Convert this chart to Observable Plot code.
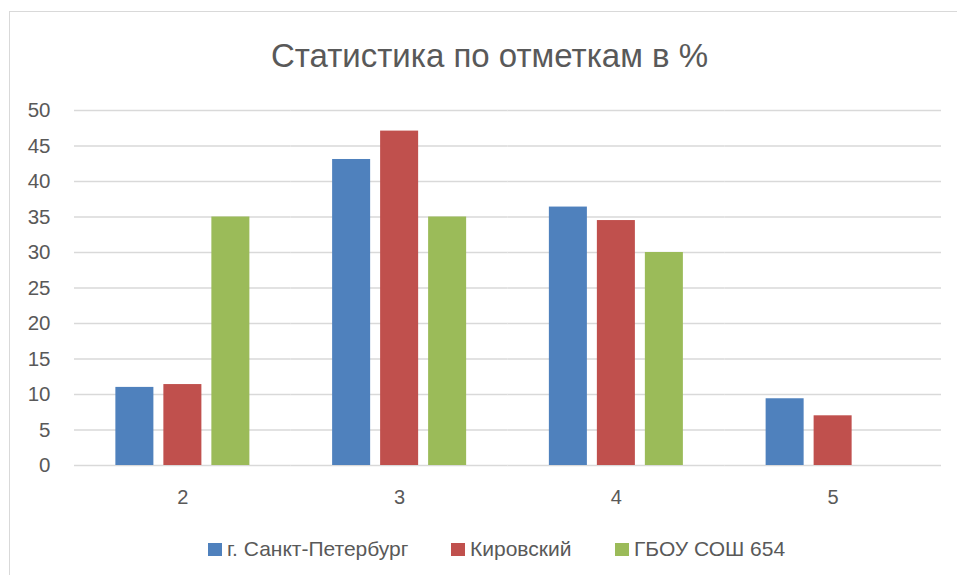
<!DOCTYPE html>
<html>
<head>
<meta charset="utf-8">
<script src="https://cdn.jsdelivr.net/npm/d3@7"></script>
<script src="https://cdn.jsdelivr.net/npm/@observablehq/plot@0.6"></script>
<style>
  body { margin: 0; background: #fff; font-family: "Liberation Sans", Arial, sans-serif; }
  #wrap { position: relative; width: 957px; height: 575px; overflow: hidden; background: #fff; }
  #frame { position: absolute; left: 9px; top: 11px; width: 1000px; height: 700px;
           border-left: 1.5px solid #d9d9d9; border-top: 1.5px solid #d9d9d9; }
  #title { position: absolute; top: 37px; left: 0; width: 979px; text-align: center;
           font-size: 33px; color: #595959; white-space: nowrap; }
  #chart { position: absolute; left: 0; top: 90px; }
  #legend { position: absolute; top: 536px; left: 0; width: 957px; height: 26px;
            font-size: 21px; color: #595959; white-space: nowrap; }
  .item { position: absolute; top: 0; display: flex; align-items: center; height: 26px; }
  .sw { width: 14px; height: 13px; margin-right: 5px; display: inline-block; }
</style>
</head>
<body>
<div id="wrap">
  <div id="frame"></div>
  <div id="title"></div>
  <div id="chart"></div>
  <div id="legend"></div>
</div>
<script>
const titleText = "Статистика по отметкам в %";
const grades = ["2", "3", "4", "5"];
const seriesNames = ["г. Санкт-Петербург", "Кировский", "ГБОУ СОШ 654"];
const spbValues = [11, 43.1, 36.4, 9.4];
const kirovValues = [11.4, 47.1, 34.5, 7];
const schoolValues = [35, 35, 30, 0];
const seriesColors = ["#4F81BD", "#C0504D", "#9BBB59"];
const yTicks = [0, 5, 10, 15, 20, 25, 30, 35, 40, 45, 50];
const legendLeft = [208, 451, 615];

const seriesValues = [spbValues, kirovValues, schoolValues];
const data = [];
grades.forEach((g, i) => {
  seriesNames.forEach((s, j) => {
    data.push({grade: g, series: s, value: seriesValues[j][i]});
  });
});

document.getElementById("title").textContent = titleText;

const chart = Plot.plot({
  width: 957,
  height: 420,
  marginTop: 20,
  marginBottom: 45,
  marginLeft: 74,
  marginRight: 16,
  style: { fontFamily: "'Liberation Sans', Arial, sans-serif", fontSize: "20px", color: "#595959", background: "transparent" },
  fx: { domain: grades, padding: 0, round: false },
  x: { domain: seriesNames, paddingInner: 0.208, paddingOuter: 0.862, round: false },
  y: { domain: [0, 50] },
  color: { domain: seriesNames, range: seriesColors },
  marks: [
    Plot.gridY(yTicks, { stroke: "#d9d9d9", strokeOpacity: 1, strokeWidth: 1.5 }),
    Plot.barY(data, { fx: "grade", x: "series", y: "value", fill: "series" }),
    Plot.axisY(yTicks, { tickSize: 0, tickPadding: 24, fontSize: 20.5, label: null, fill: "#595959" }),
    Plot.axisFx({ anchor: "bottom", tickSize: 0, tickPadding: 24, fontSize: 20, label: null, fill: "#595959" }),
    Plot.axisX({ ticks: [], label: null, tickSize: 0 })
  ]
});
document.getElementById("chart").appendChild(chart);

const legend = document.getElementById("legend");
seriesNames.forEach((s, j) => {
  const item = document.createElement("div");
  item.className = "item";
  item.style.left = legendLeft[j] + "px";
  const sw = document.createElement("span");
  sw.className = "sw";
  sw.style.background = seriesColors[j];
  const t = document.createElement("span");
  t.textContent = s;
  item.appendChild(sw);
  item.appendChild(t);
  legend.appendChild(item);
});
</script>
</body>
</html>
